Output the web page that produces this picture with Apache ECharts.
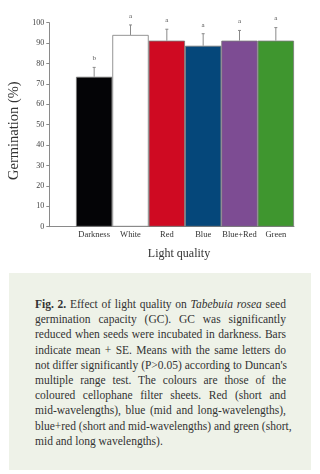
<!DOCTYPE html>
<html>
<head>
<meta charset="utf-8">
<script src="https://cdn.jsdelivr.net/npm/echarts@6/dist/echarts.min.js"></script>
<style>
  html, body { margin: 0; padding: 0; background: #fff; }
  #wrap { position: relative; width: 320px; height: 474px; overflow: hidden; }
  #chart { position: absolute; left: 0; top: 0; width: 320px; height: 474px; }
  .caption {
    position: absolute; left: 9px; top: 273px; width: 302px; height: 197px;
    background: #eef2e8; box-sizing: border-box; padding: 24px 25px 0 26px;
    font-family: "Liberation Serif", "DejaVu Serif", serif; font-size: 11.5px;
    line-height: 15.2px; color: #333;
  }
  .caption div { white-space: nowrap; text-align: justify; text-align-last: justify; }
  .caption div.last { text-align-last: left; }
</style>
</head>
<body>
<div id="wrap">
  <div id="chart"></div>
  <div class="caption">
    <div><b>Fig. 2.</b> Effect of light quality on <i>Tabebuia rosea</i> seed</div>
    <div>germination capacity (GC). GC was significantly</div>
    <div>reduced when seeds were incubated in darkness. Bars</div>
    <div>indicate mean + SE. Means with the same letters do</div>
    <div>not differ significantly (P&gt;0.05) according to Duncan's</div>
    <div>multiple range test. The colours are those of the</div>
    <div>coloured cellophane filter sheets. Red (short and</div>
    <div>mid-wavelengths), blue (mid and long-wavelengths),</div>
    <div>blue+red (short and mid-wavelengths) and green (short,</div>
    <div class="last">mid and long wavelengths).</div>
  </div>
</div>
<script>
// germination data
const categories = ['Darkness', 'White', 'Red', 'Blue', 'Blue+Red', 'Green'];
const means = [73.5, 94.0, 91.2, 88.7, 91.2, 91.2];
const ses = [4.6, 4.9, 5.6, 5.9, 5.0, 6.4];
const letters = ['b', 'a', 'a', 'a', 'a', 'a'];
const yTicks = [0, 100, 10]; // min, max, interval

const barColors = ['#040406', '#ffffff', '#cf0a22', '#05477a', '#7d4c93', '#3f962f'];

const serif = '"Liberation Serif", "DejaVu Serif", serif';
const chart = echarts.init(document.getElementById('chart'), null, { renderer: 'canvas' });

const gridTop = 22.7;
const gridHeight = 204;

const option = {
  animation: false,
  backgroundColor: 'transparent',
  grid: [
    { left: 49.3, right: 26, top: gridTop, height: gridHeight, containLabel: false, outerBoundsMode: 'none' },
    { left: 76, right: 26, top: gridTop, height: gridHeight, containLabel: false, outerBoundsMode: 'none' }
  ],
  xAxis: [
    {
      gridIndex: 0,
      type: 'value',
      min: 0,
      max: 1,
      axisLine: { show: true, lineStyle: { color: '#8a8a8a', width: 1 } },
      axisTick: { show: false },
      axisLabel: { show: false },
      splitLine: { show: false }
    },
    {
      gridIndex: 1,
      type: 'category',
      data: categories,
      axisLine: { show: false },
      axisTick: { show: false },
      axisLabel: { interval: 0, color: '#333', fontSize: 8.5, fontFamily: serif, margin: 4 }
    }
  ],
  yAxis: [
    {
      gridIndex: 0,
      type: 'value',
      min: yTicks[0],
      max: yTicks[1],
      interval: yTicks[2],
      name: 'Germination (%)',
      nameLocation: 'middle',
      nameRotate: 90,
      nameGap: 28,
      nameTextStyle: { color: '#333', fontSize: 14.5, fontFamily: serif, padding: [0, 12, 0, 0] },
      axisLine: { show: true, lineStyle: { color: '#8a8a8a', width: 1 } },
      axisTick: { show: true, inside: false, length: 3, lineStyle: { color: '#8a8a8a' } },
      axisLabel: { color: '#444', fontSize: 8, fontFamily: serif, margin: 5 },
      splitLine: { show: false }
    },
    {
      gridIndex: 1,
      type: 'value',
      min: yTicks[0],
      max: yTicks[1],
      interval: yTicks[2],
      show: false
    }
  ],
  graphic: [
    {
      type: 'text',
      x: 179,
      y: 254,
      style: { text: 'Light quality', fill: '#333', font: '12px ' + serif, align: 'center', verticalAlign: 'middle' }
    }
  ],
  series: [
    {
      type: 'bar',
      xAxisIndex: 1,
      yAxisIndex: 1,
      barWidth: '100%',
      barCategoryGap: 0,
      data: means.map((v, i) => ({
        value: v,
        itemStyle: { color: barColors[i], borderColor: '#7a7a7a', borderWidth: 0.8 }
      }))
    },
    {
      type: 'custom',
      xAxisIndex: 1,
      yAxisIndex: 1,
      z: 5,
      data: means.map((v, i) => [i, v, ses[i]]),
      renderItem: function (params, api) {
        const i = api.value(0);
        const base = api.coord([i, api.value(1)]);
        const top = api.coord([i, api.value(1) + api.value(2)]);
        const stroke = { stroke: '#8a8a8a', lineWidth: 1 };
        return {
          type: 'group',
          children: [
            { type: 'line', shape: { x1: base[0], y1: base[1], x2: top[0], y2: top[1] }, style: stroke },
            { type: 'line', shape: { x1: top[0] - 1.5, y1: top[1], x2: top[0] + 1.5, y2: top[1] }, style: stroke },
            {
              type: 'text',
              x: top[0],
              y: top[1] - 9,
              style: { text: letters[params.dataIndex], fill: '#555', font: '7px ' + serif, align: 'center', verticalAlign: 'middle' }
            }
          ]
        };
      }
    }
  ]
};

chart.setOption(option);
</script>
</body>
</html>
